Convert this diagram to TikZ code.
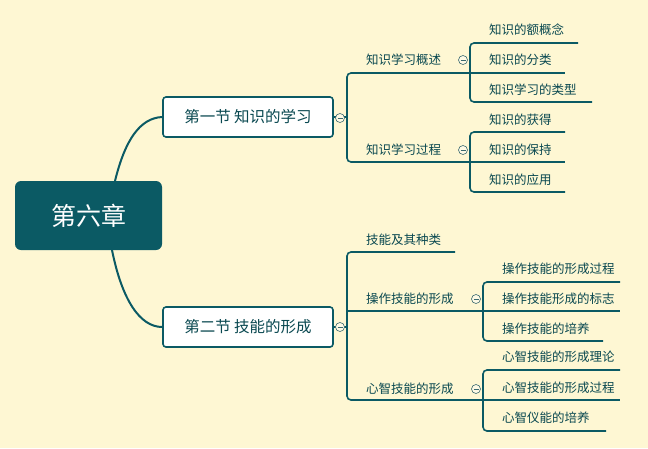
\documentclass[tikz,border=0pt]{standalone}
\usepackage{fontspec}
\setmainfont{Noto Sans CJK SC}
\definecolor{teal}{HTML}{0B5A64}
\definecolor{bg}{HTML}{FEF7D3}
\begin{document}
\begin{tikzpicture}[x=1pt,y=-1pt,
  ln/.style={draw=teal,line width=1.6pt,rounded corners=4pt},
  leaf/.style={anchor=west,inner sep=0pt,font=\fontsize{12.5}{14}\selectfont,text=teal!80!black},
  sect/.style={draw=teal,line width=1.6pt,fill=white,rounded corners=3pt,minimum width=170pt,minimum height=40pt,font=\fontsize{15.5}{18}\selectfont,text=teal!80!black},
  col/.style={circle,draw=teal!60!gray,fill=bg!60!white,line width=0.6pt,minimum size=9pt,inner sep=0pt,path picture={\draw[teal!60!gray,line width=0.7pt] ([xshift=-2.5pt]path picture bounding box.center)--([xshift=2.5pt]path picture bounding box.center);}}]
\fill[bg] (0,0) rectangle (648,448);
\useasboundingbox (0,0) rectangle (648,448);
\node[fill=teal,rounded corners=6pt,minimum width=147pt,minimum height=69pt,text=white,font=\fontsize{25}{30}\selectfont] (root) at (88.5,215.5) {第六章};
\node[sect] (s1) at (248,117) {第一节 知识的学习};
\node[sect] (s2) at (248,327) {第二节 技能的形成};
\draw[teal,line width=2pt] (115,181) .. controls (125,140) and (140,118) .. (s1.west);
\draw[teal,line width=2pt] (112,250) .. controls (122,300) and (140,327) .. (s2.west);
% section 1
\draw[ln] (s1.east) -- (347,117);
\draw[ln] (470,73) -- (347,73) -- (347,162) -- (470,162);
\node[leaf] (t1) at (366,60) {知识学习概述};
\node[leaf] (t2) at (366,150) {知识学习过程};
\draw[ln] (578,43) -- (470,43) -- (470,102) -- (592,102);
\draw[ln] (470,73) -- (565,73);
\node[leaf] (a1) at (489,30) {知识的额概念};
\node[leaf] (a2) at (489,60) {知识的分类};
\node[leaf] (a3) at (489,90) {知识学习的类型};
\draw[ln] (565,132) -- (470,132) -- (470,192) -- (565,192);
\draw[ln] (470,162) -- (565,162);
\node[leaf] (b1) at (489,120) {知识的获得};
\node[leaf] (b2) at (489,150) {知识的保持};
\node[leaf] (b3) at (489,180) {知识的应用};
% section 2
\draw[ln] (s2.east) -- (347,327);
\draw[ln] (455,252) -- (347,252) -- (347,400) -- (483,400);
\draw[ln] (347,311) -- (483,311);
\node[leaf] (t3) at (366,240) {技能及其种类};
\node[leaf] (t4) at (366,299) {操作技能的形成};
\node[leaf] (t5) at (366,389) {心智技能的形成};
\draw[ln] (620,282) -- (483,282) -- (483,341) -- (603,341);
\draw[ln] (483,311) -- (620,311);
\node[leaf] (c1) at (502,269) {操作技能的形成过程};
\node[leaf] (c2) at (502,299) {操作技能形成的标志};
\node[leaf] (c3) at (502,329) {操作技能的培养};
\draw[ln] (620,370) -- (483,370) -- (483,431) -- (606,431);
\draw[ln] (483,400) -- (620,400);
\node[leaf] (d1) at (502,357) {心智技能的形成理论};
\node[leaf] (d2) at (502,388) {心智技能的形成过程};
\node[leaf] (d3) at (502,418) {心智仪能的培养};
% collapse markers
\node[col] at (340,118) {};
\node[col] at (340,327) {};
\node[col] at (463,60) {};
\node[col] at (463,150) {};
\node[col] at (476,299) {};
\node[col] at (476,389) {};
\end{tikzpicture}
\end{document}
